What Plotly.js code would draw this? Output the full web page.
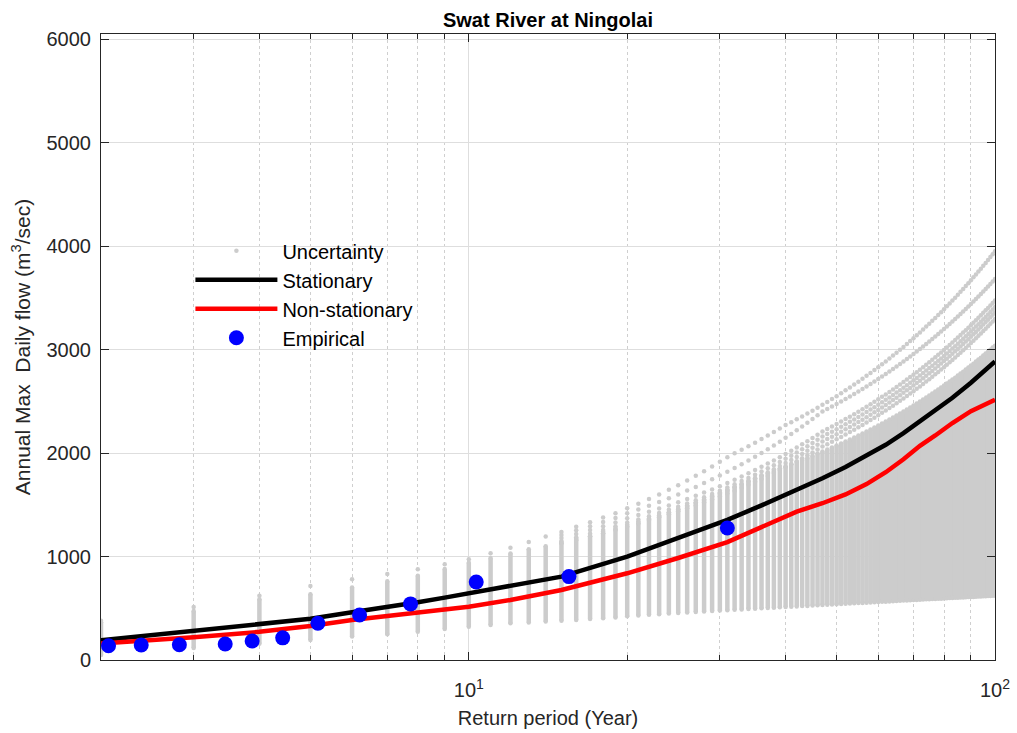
<!DOCTYPE html>
<html><head><meta charset="utf-8">
<script src="https://cdn.plot.ly/plotly-3.0.1.min.js"></script>
<style>html,body{margin:0;padding:0;background:#fff}#chart{width:1017px;height:733px}</style>
</head><body><div id="chart"></div>
<script>
// Return periods of the uncertainty columns (years)
const T = [2,3,4,5,6,7,8,9,10,11,12,13,14,15,16,17,18,19,20,21,22,23,24,25,26,27,28,29,30,31,32,33,34,35,36,37,38,39,40,41,42,43,44,45,46,47,48,49,50,51,52,53,54,55,56,57,58,59,60,61,62,63,64,65,66,67,68,69,70,71,72,73,74,75,76,77,78,79,80,81,82,83,84,85,86,87,88,89,90,91,92,93,94,95,96,97,98,99,100];
// Lower and upper edge of the dense uncertainty band per column
const bandLow = [48,116,158,193,226,248,274,300,322,338,355,362,371,380,387,396,404,411,422,430,437,443,449,454,459,464,469,474,478,482,485,489,493,496,499,503,506,509,512,515,518,521,523,526,529,531,534,536,539,541,543,546,548,550,552,554,556,558,560,562,564,566,568,570,572,574,575,577,579,581,582,584,586,587,589,590,592,593,595,596,598,599,601,602,604,605,606,608,609,610,612,613,614,615,617,618,619,620,622];
const bandHigh = [364,474,587,635,700,760,815,880,940,985,1030,1070,1100,1128,1160,1193,1225,1258,1290,1324,1358,1392,1426,1460,1492,1524,1556,1588,1620,1648,1676,1704,1732,1760,1783,1806,1829,1852,1875,1895,1915,1935,1955,1975,1995,2015,2035,2054,2074,2093,2112,2132,2151,2170,2189,2209,2228,2247,2267,2286,2305,2324,2344,2363,2382,2402,2421,2440,2459,2479,2498,2517,2537,2556,2575,2594,2614,2633,2652,2672,2691,2710,2729,2749,2768,2787,2807,2826,2845,2864,2884,2903,2922,2942,2961,2980,2999,3019,3038];
// Outlying uncertainty samples (upper dotted curves)
const upper1 = [380,513,622,716,780,832,877,925,974,1032,1086,1141,1193,1238,1289,1332,1376,1418,1467,1509,1555,1600,1645,1690,1735,1780,1825,1870,1915,1960,1997,2032,2065,2100,2135,2170,2204,2237,2270,2298,2326,2354,2382,2410,2438,2466,2494,2522,2550,2578,2606,2634,2662,2690,2718,2746,2774,2802,2830,2858,2886,2914,2942,2970,2998,3026,3054,3082,3110,3138,3166,3194,3222,3250,3278,3306,3334,3362,3390,3418,3446,3474,3502,3530,3558,3586,3614,3642,3670,3698,3726,3754,3782,3810,3838,3866,3894,3922,3950];
// the following curves start at T = 15
const upper2 = [1207,1253,1293,1334,1373,1418,1454,1491,1527,1564,1600,1637,1673,1710,1746,1782,1819,1855,1892,1928,1965,2001,2038,2074,2110,2147,2183,2220,2256,2293,2329,2366,2402,2426,2450,2474,2499,2523,2547,2571,2595,2619,2644,2668,2692,2716,2740,2764,2788,2813,2837,2861,2885,2909,2933,2957,2982,3006,3030,3054,3078,3102,3127,3151,3175,3199,3223,3247,3271,3296,3320,3344,3368,3392,3416,3441,3465,3489,3513,3537,3561,3585,3610,3634,3658,3682];
const upper3 = [1178,1218,1256,1293,1330,1370,1401,1432,1463,1494,1525,1556,1587,1618,1649,1680,1711,1742,1774,1805,1836,1867,1898,1929,1960,1991,2022,2053,2084,2115,2146,2177,2208,2232,2256,2280,2304,2328,2351,2375,2399,2423,2447,2471,2495,2519,2543,2567,2591,2614,2638,2662,2686,2710,2734,2758,2782,2806,2830,2854,2877,2901,2925,2949,2973,2997,3021,3045,3069,3093,3117,3140,3164,3188,3212,3236,3260,3284,3308,3332,3356,3379,3403,3427,3451,3475];
const upper4 = [1151,1187,1222,1257,1292,1328,1359,1390,1420,1451,1482,1513,1544,1574,1605,1636,1667,1698,1729,1759,1790,1821,1852,1883,1913,1944,1975,2006,2037,2067,2098,2129,2160,2184,2207,2231,2254,2278,2302,2325,2349,2372,2396,2420,2443,2467,2490,2514,2538,2561,2585,2608,2632,2656,2679,2703,2726,2750,2774,2797,2821,2844,2868,2892,2915,2939,2962,2986,3010,3033,3057,3080,3104,3128,3151,3175,3198,3222,3246,3269,3293,3316,3340,3364,3387,3411];
const upper5 = [1140,1174,1208,1242,1276,1310,1340,1369,1399,1429,1458,1488,1518,1547,1577,1607,1636,1666,1696,1725,1755,1785,1814,1844,1874,1903,1933,1963,1992,2022,2052,2081,2111,2135,2158,2182,2205,2229,2252,2276,2299,2323,2347,2370,2394,2417,2441,2464,2488,2512,2535,2559,2582,2606,2629,2653,2677,2700,2724,2747,2771,2794,2818,2841,2865,2889,2912,2936,2959,2983,3006,3030,3054,3077,3101,3124,3148,3171,3195,3218,3242,3266,3289,3313,3336,3359];
const upper6 = [1131,1163,1196,1228,1261,1295,1323,1352,1380,1409,1437,1466,1494,1523,1551,1579,1608,1636,1665,1693,1722,1750,1779,1807,1836,1864,1892,1921,1949,1978,2006,2035,2063,2086,2110,2133,2156,2179,2203,2226,2249,2272,2296,2319,2342,2365,2389,2412,2435,2458,2482,2505,2528,2551,2575,2598,2621,2644,2668,2691,2714,2737,2761,2784,2807,2830,2854,2877,2900,2923,2947,2970,2993,3016,3040,3063,3086,3109,3133,3156,3179,3202,3226,3249,3272,3295];

// Fitted quantile curves
const Tcurve = [2,3,4,5,6,7,8,9,10,12,15,20,25,31,36,42,47,52,57,62,67,72,77,83,90,100];
const stationary = [190,280,340,398,461,510,558,603,645,725,806,999,1178,1355,1494,1644,1757,1865,1972,2080,2192,2305,2410,2535,2680,2885];
const nonStationary = [160,219,272,329,387,425,458,484,514,580,677,838,986,1140,1280,1434,1515,1600,1700,1815,1940,2070,2170,2290,2405,2515];

// Empirical (plotting position) points
const Temp = [2.067,2.385,2.818,3.444,3.875,4.429,5.167,6.2,7.75,10.33,15.5,31];
const Qemp = [138,145,148,155,184,214,355,435,542,754,806,1275];

const xTickVals = [10,100];
const xTickText = ['10<sup>1</sup>','10<sup>2</sup>'];
const xMinorVals = [3,4,5,6,7,8,9,20,30,40,50,60,70,80,90];
const yTickVals = [0,1000,2000,3000,4000,5000,6000];

const GRAY = 'rgb(204,204,204)';
const FONT = 'Liberation Sans, Arial, Helvetica, sans-serif';

// Build column segments from the band arrays
const bx = [], by = [];
T.forEach((t,i) => { bx.push(t,t,null); by.push(bandLow[i], bandHigh[i], null); });
const Tup = T.slice(T.indexOf(15));

const traces = [
  {x:bx, y:by, type:'scatter', mode:'lines+markers', line:{color:GRAY,width:4.5},
   marker:{color:GRAY,size:4.5}, showlegend:false, hoverinfo:'skip'},
  {x:T, y:upper1, type:'scatter', mode:'markers', marker:{color:GRAY,size:4.5},
   name:'Uncertainty', showlegend:true},
];
[upper2,upper3,upper4,upper5,upper6].forEach(arr => traces.push(
  {x:Tup, y:arr, type:'scatter', mode:'markers', marker:{color:GRAY,size:4.5}, showlegend:false}));
traces.push(
  {x:Tcurve, y:stationary, type:'scatter', mode:'lines', line:{color:'#000000',width:4.5}, name:'Stationary'},
  {x:Tcurve, y:nonStationary, type:'scatter', mode:'lines', line:{color:'#ff0000',width:4.5}, name:'Non-stationary'},
  {x:Temp, y:Qemp, type:'scatter', mode:'markers', marker:{color:'#0000ff',size:15}, name:'Empirical'}
);

const axisCommon = {showline:true, linecolor:'#262626', linewidth:1, mirror:'ticks', ticks:'inside',
  tickcolor:'#262626', ticklen:8, tickfont:{family:FONT,size:20,color:'#262626'}, zeroline:false,
  showgrid:true, gridcolor:'#dedede', gridwidth:1, automargin:false};

const layout = {
  width:1017, height:733, paper_bgcolor:'#ffffff', plot_bgcolor:'#ffffff',
  margin:{l:101, r:22, t:34, b:73},
  font:{family:FONT, color:'#262626'},
  title:{text:'<b>Swat River at Ningolai</b>', font:{family:FONT,size:20,color:'#000'},
    xref:'paper', x:0.5, yref:'container', y:1-20/733, yanchor:'middle'},
  xaxis:Object.assign({}, axisCommon, {type:'log', range:[Math.log10(2), 2],
    tickmode:'array', tickvals:xTickVals, ticktext:xTickText, ticklabelstandoff:12,
    minor:{tickmode:'array', tickvals:xMinorVals, ticks:'inside', ticklen:5, tickcolor:'#262626',
      showgrid:true, gridcolor:'#cfcfcf', griddash:'dot', gridwidth:1},
    title:{text:'Return period (Year)', font:{family:FONT,size:20,color:'#262626'}, standoff:10}}),
  yaxis:Object.assign({}, axisCommon, {range:[0,6050], tickmode:'array', tickvals:yTickVals, ticklabelstandoff:5,
    title:{text:'Annual Max \u00a0Daily flow (m<sup>3</sup>/sec)', font:{family:FONT,size:21,color:'#262626'}, standoff:10}}),
  legend:{x:0.1, xanchor:'left', y:0.685, yanchor:'top', bgcolor:'rgba(0,0,0,0)', borderwidth:0,
    font:{family:FONT,size:20,color:'#000'}, itemwidth:82, traceorder:'normal'},
  showlegend:true
};

Plotly.newPlot('chart', traces, layout, {staticPlot:true, displayModeBar:false});
</script>
</body></html>
